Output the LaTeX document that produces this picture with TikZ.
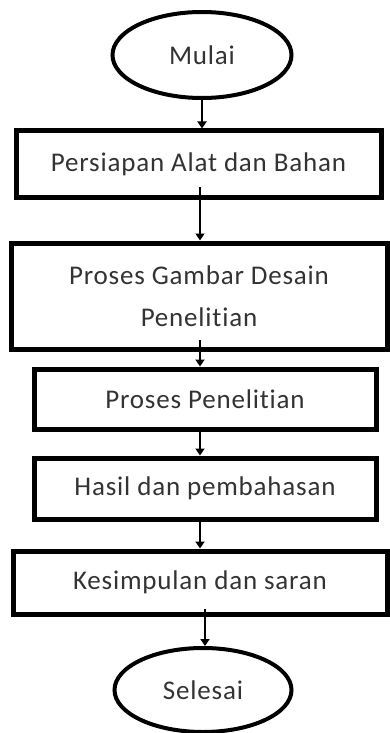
\documentclass[tikz,border=0pt]{standalone}
\usepackage{fontspec}
\setmainfont{Carlito}[Ligatures={NoCommon,NoContextual},LetterSpace=3]
\usetikzlibrary{arrows.meta,shapes.geometric}
\begin{document}
\begin{tikzpicture}[x=1pt,y=-1pt,
  txt/.style={text=black!80,font=\fontsize{27}{32}\selectfont},
  boxnode/.style={txt,draw=black,line width=5pt,rectangle,inner sep=0pt},
  ovalnode/.style={txt,draw=black,line width=4pt,ellipse,inner sep=0pt},
  conn/.style={line width=2pt,-{Triangle[width=9pt,length=7pt]}}]
\useasboundingbox (0,0) rectangle (390,733);
\node[ovalnode,minimum width=179pt,minimum height=86pt] (m) at (202,55) {Mulai};
\node[boxnode,minimum width=365pt,minimum height=66pt] (b1) at (198.5,164) {Persiapan Alat dan Bahan};
\node[boxnode,minimum width=376pt,minimum height=106pt,align=center,font=\fontsize{27}{42}\selectfont] (b2) at (199,296) {Proses Gambar Desain\\Penelitian};
\node[boxnode,minimum width=342pt,minimum height=60pt] (b3) at (205,399) {Proses Penelitian};
\node[boxnode,minimum width=342pt,minimum height=61pt] (b4) at (205,488.5) {Hasil dan pembahasan};
\node[boxnode,minimum width=374pt,minimum height=63pt] (b5) at (200,582.5) {Kesimpulan dan saran};
\node[ovalnode,minimum width=177pt,minimum height=84pt] (s) at (203,690) {Selesai};
\draw[conn] (m.south) -- (m.south |- b1.north);
\draw[conn] (200,187) coordinate (c1) -- (c1 |- b2.north);
\draw[conn] (200,340) coordinate (c2) -- (c2 |- b3.north);
\draw[conn] (c2 |- b3.south) -- (c2 |- b4.north);
\draw[conn] (c2 |- b4.south) -- (c2 |- b5.north);
\draw[conn] (205,609) coordinate (c3) -- (c3 |- s.north);
\end{tikzpicture}
\end{document}
